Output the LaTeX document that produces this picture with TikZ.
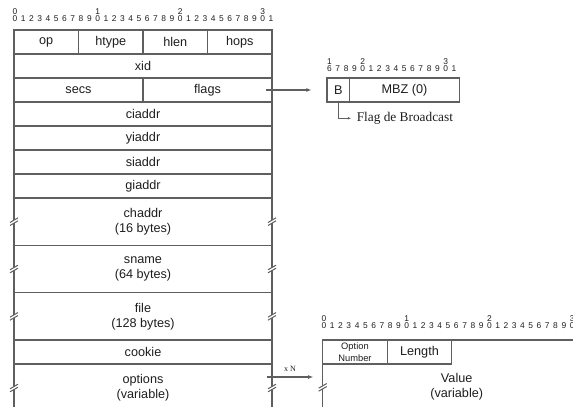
\documentclass[tikz,border=0pt]{standalone}
\usepackage{fontspec}
\setmainfont{Liberation Sans}
\newfontfamily\serifface{Liberation Serif}
\usetikzlibrary{arrows.meta, positioning}
\definecolor{rulegray}{RGB}{95,95,95}
\definecolor{inkgray}{RGB}{30,30,30}
\tikzset{
  field/.style={rectangle, draw=rulegray, line width=0.9pt, minimum height=18pt, inner sep=0pt,
                outer sep=0pt, align=center, text=inkgray, font=\fontsize{9.5}{11.3}\selectfont},
  fieldtext/.style={field, draw=none},
  wordfield/.style={field, minimum width=193.5pt},
  halffield/.style={field, minimum width=96.75pt},
  bytefield/.style={field, minimum width=48.375pt},
  longfield/.style={wordfield, minimum height=35.5pt},
  bitnum/.style={inner sep=0pt, text=inkgray, font=\fontsize{6.3}{7}\selectfont},
  edge/.style={draw=rulegray, line width=0.9pt},
  arr/.style={-{Latex[length=4pt,width=3pt]}, draw=rulegray, line width=0.9pt},
  brk/.pic={
    \fill[white] (-4,0.8) -- (4,-3.8) -- (4,-0.8) -- (-4,3.8) -- cycle;
    \draw[draw=rulegray, line width=0.75pt] (-4,0.8) -- (4,-3.8) (-4,3.8) -- (4,-0.8);
  }
}

\begin{document}
\begin{tikzpicture}[x=0.75pt, y=-0.75pt]
\useasboundingbox (0,0) rectangle (573,407);
\coordinate (bottom) at (0,407);
\coordinate (rightedge) at (573,0);
% bit ruler of the header
\foreach \i in {0,...,31} {\pgfmathtruncatemacro\d{mod(\i,10)} \node[bitnum] (m\i) at (15+8.26*\i,18.3) {\d};}
\foreach \i/\t in {0/0,10/1,20/2,30/3} \node[bitnum] (mt\i) at (15+8.26*\i,11.2) {\t};
% header words
\node[bytefield, anchor=north west] (op) at (14,30) {op};
\node[bytefield, right=0pt of op] (htype) {htype};
\node[bytefield, right=0pt of htype] (hlen) {hlen};
\node[bytefield, right=0pt of hlen] (hops) {hops};
\node[wordfield, below=0pt of op.south west, anchor=north west] (xid) {xid};
\node[halffield, below=0pt of xid.south west, anchor=north west] (secs) {secs};
\node[halffield, right=0pt of secs] (flags) {flags};
\node[wordfield, below=0pt of secs.south west, anchor=north west] (ciaddr) {ciaddr};
\node[wordfield, below=0pt of ciaddr] (yiaddr) {yiaddr};
\node[wordfield, below=0pt of yiaddr] (siaddr) {siaddr};
\node[wordfield, below=0pt of siaddr] (giaddr) {giaddr};
\node[longfield, below=0pt of giaddr] (chaddr) {chaddr\\(16 bytes)};
\node[longfield, below=0pt of chaddr] (sname) {sname\\(64 bytes)};
\node[longfield, below=0pt of sname] (file) {file\\(128 bytes)};
\node[wordfield, below=0pt of file] (cookie) {cookie};
\node[longfield, draw=none, below=0pt of cookie] (options) {options\\(variable)};
\draw[edge] (options.north west) -- (options.north west |- bottom)
            (options.north east) -- (options.north east |- bottom);
\foreach \n in {chaddr, sname, file} {\pic at (\n.west) {brk}; \pic at (\n.east) {brk};}
\pic at ([yshift=-18pt]options.north west) {brk};
\pic at ([yshift=-18pt]options.north east) {brk};
% flags detail
\foreach \j in {0,...,15} {\pgfmathtruncatemacro\d{mod(\j+16,10)} \node[bitnum] (f\j) at (329.5+8.3*\j,68.3) {\d};}
\foreach \j/\t in {0/1,4/2,14/3} \node[bitnum] (ft\j) at (329.5+8.3*\j,61.2) {\t};
\node[field, minimum width=17pt, right=41.25pt of flags] (bflag) {B};
\node[field, minimum width=82.3pt, right=0pt of bflag] (mbz) {MBZ (0)};
\draw[arr] ([xshift=-4.5pt]flags.east) -- ([xshift=-11.5pt]bflag.west);
\node[inner sep=0pt, anchor=west, text=inkgray, font=\serifface\fontsize{10}{12}\selectfont] (bcast) at (356.5,118.3) {Flag de Broadcast};
\draw[draw=rulegray, line width=0.6pt, -{Latex[length=2.5pt,width=2pt]}] (bflag.south) |- ([xshift=-4pt]bcast.west);
% option detail
\foreach \i in {0,...,30} {\pgfmathtruncatemacro\d{mod(\i,10)} \node[bitnum] (o\i) at (324+8.27*\i,326) {\d};}
\foreach \i/\t in {0/0,10/1,20/2,30/3} \node[bitnum] (ot\i) at (324+8.27*\i,318.9) {\t};
\node[bytefield, font=\fontsize{7}{8.6}\selectfont, anchor=north west] (onum) at (322.7,340) {Option\\Number};
\node[bytefield, right=0pt of onum] (olen) {Length};
\node[fieldtext] (oval) at (456.7,387) {Value\\(variable)};
\draw[edge] (olen.north east) -- (olen.north east -| rightedge);
\draw[edge] (onum.south west) -- (onum.south west |- bottom);
\pic at ([yshift=-17.5pt]onum.south west) {brk};
\coordinate (xn) at ([shift={(-5.5,13)}]options.north east);
\draw[arr] (xn) -- ([xshift=-7pt]onum.west |- xn) node[midway, above=3.5pt, bitnum, font=\serifface\fontsize{6}{7}\selectfont] (xnlabel) {x N};
\end{tikzpicture}
\end{document}
